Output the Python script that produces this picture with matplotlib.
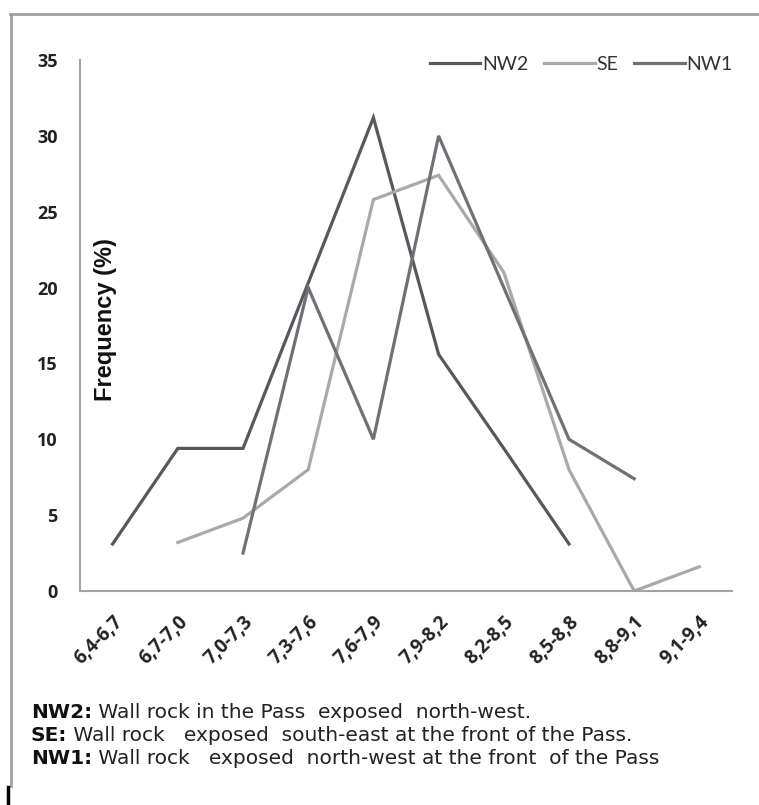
import numpy as np
import matplotlib
matplotlib.use("Agg")
import matplotlib.pyplot as plt
import matplotlib.transforms as mtransforms
from matplotlib.lines import Line2D

categories = ["6,4-6,7", "6,7-7,0", "7,0-7,3", "7,3-7,6", "7,6-7,9",
              "7,9-8,2", "8,2-8,5", "8,5-8,8", "8,8-9,1", "9,1-9,4"]
nw2 = [3.1, 9.4, 9.4, 20.3, 31.2, 15.6, 9.4, 3.1, None, None]
se = [None, 3.2, 4.8, 8.0, 25.8, 27.4, 21.0, 8.0, 0.0, 1.6]
nw1 = [None, None, 2.5, 20.0, 10.0, 30.0, 20.0, 10.0, 7.4, None]
yticks = [0, 5, 10, 15, 20, 25, 30, 35]

def arr(v):
    return np.array([np.nan if x is None else x for x in v], dtype=float)

W, H = 759, 805
fig = plt.figure(figsize=(W / 100, H / 100), dpi=100)
fig.patch.set_facecolor("white")

ax = fig.add_axes([80 / W, (H - 591) / H, (732 - 80) / W, (591 - 60) / H])
x = np.arange(len(categories))
c_nw2, c_se, c_nw1 = "#55585d", "#a8a9ab", "#6f7176"
ax.plot(x, arr(nw2), color=c_nw2, lw=2.3, label="NW2", solid_joinstyle="miter")
ax.plot(x, arr(se), color=c_se, lw=2.3, label="SE", solid_joinstyle="miter")
ax.plot(x, arr(nw1), color=c_nw1, lw=2.3, label="NW1", solid_joinstyle="miter")

ax.set_xlim(-0.5, len(categories) - 0.5)
ax.set_ylim(0, 35)
ax.set_yticks(yticks)
ax.set_yticklabels([str(t) for t in yticks], fontweight="bold", fontsize=13,
                   color="#222222", family="Open Sans")
ax.set_xticks(x)
ax.set_xticklabels(categories, rotation=45, ha="right", rotation_mode="anchor",
                   fontweight="bold", fontsize=13.5, color="#222222", family="Open Sans")
offset = mtransforms.ScaledTranslation(-5 / 100, 0, fig.dpi_scale_trans)
for lbl in ax.get_xticklabels():
    lbl.set_transform(lbl.get_transform() + offset)
ax.tick_params(axis="both", length=0)
ax.tick_params(axis="y", pad=16)
ax.tick_params(axis="x", pad=15)
for s in ["top", "right"]:
    ax.spines[s].set_visible(False)
for s in ["left", "bottom"]:
    ax.spines[s].set_color("#a3a3a3")
    ax.spines[s].set_linewidth(1.5)

fig.text(106 / W, 1 - 320 / H, "Frequency (%)", rotation=90, ha="center", va="center",
         fontweight="bold", fontsize=17, family="Liberation Sans", color="#111111")

leg = ax.legend(loc="upper right", bbox_to_anchor=(1.028, 1.041), ncol=3, frameon=False,
                handlelength=2.6, handletextpad=0.1, columnspacing=0.8,
                prop={"family": "Lato", "size": 14})
for t in leg.get_texts():
    t.set_color("#333333")

# figure border lines
fig.add_artist(Line2D([10 / W, 1], [1 - 14 / H, 1 - 14 / H], color="#a0a0a0", lw=2,
                      transform=fig.transFigure))
fig.add_artist(Line2D([11 / W, 11 / W], [1 - 14 / H, 1 - 786 / H], color="#a0a0a0", lw=2,
                      transform=fig.transFigure))
fig.add_artist(Line2D([7.5 / W, 7.5 / W], [1 - 787 / H, 0], color="black", lw=2.5,
                      transform=fig.transFigure))

notes = [("NW2:", " Wall rock in the Pass  exposed  north-west."),
         ("SE:", " Wall rock   exposed  south-east at the front of the Pass."),
         ("NW1:", " Wall rock   exposed  north-west at the front  of the Pass")]
baselines = [718, 741, 764]
renderer = fig.canvas.get_renderer()
for (b, r), yy in zip(notes, baselines):
    tb = fig.text(31 / W, 1 - yy / H, b, fontweight="bold", fontsize=14.5,
                  family="DejaVu Sans", va="baseline", color="#111111")
    bb = tb.get_window_extent(renderer=renderer)
    fig.text(bb.x1 / W, 1 - yy / H, r, fontsize=14.5, family="DejaVu Sans",
             va="baseline", color="#222222")

fig.savefig("out.png", dpi=100, facecolor="white")
